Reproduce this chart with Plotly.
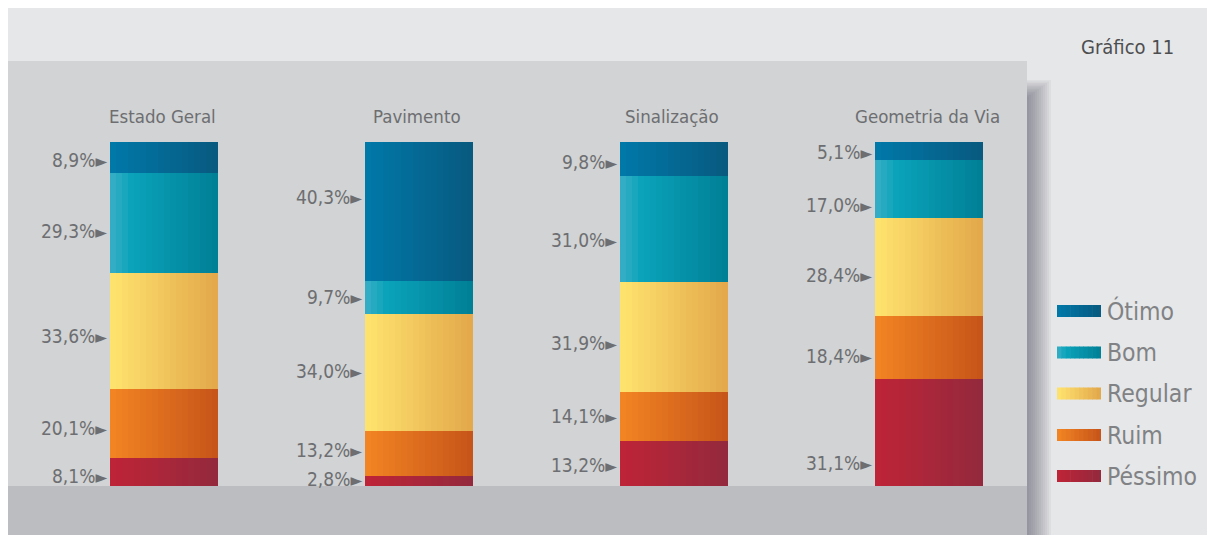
import plotly.graph_objects as go
import numpy as np

# ---- data ----
categories = ["Estado Geral", "Pavimento", "Sinalização", "Geometria da Via"]
levels = ["Péssimo", "Ruim", "Regular", "Bom", "Ótimo"]  # bottom -> top
pessimo = [8.1, 2.8, 13.2, 31.1]
ruim = [20.1, 13.2, 14.1, 18.4]
regular = [33.6, 34.0, 31.9, 28.4]
bom = [29.3, 9.7, 31.0, 17.0]
otimo = [8.9, 40.3, 9.8, 5.1]
chart_title = "Gráfico 11"

series = [pessimo, ruim, regular, bom, otimo]

# ---- styling ----
# vertical nudges (px, downward) of value labels, per level (bottom -> top) and per category
label_nudge = {
    "Péssimo": [4, -2, 2, 30],
    "Ruim": [4, -4, 0, 9],
    "Regular": [5, -1, 6, 8],
    "Bom": [8, 0, 11, 16],
    "Ótimo": [3, -14, 3, 1],
}

# gradient colours (left -> right)
grad = {
    "Ótimo": [(0.0, "#0079a9"), (1.0, "#08597f")],
    "Bom": [(0.0, "#3aafc7"), (0.2, "#0aa3ba"), (1.0, "#007f96")],
    "Regular": [(0.0, "#ffe46f"), (1.0, "#e2a74a")],
    "Ruim": [(0.0, "#f38523"), (1.0, "#c65419")],
    "Péssimo": [(0.0, "#bf2437"), (1.0, "#93293d")],
}

W, H = 1207, 535
FONT = "DejaVu Sans Condensed, Liberation Sans Narrow, sans-serif"
LABEL_COLOR = "#6d6e71"


def hex2rgb(h):
    h = h.lstrip("#")
    return np.array([int(h[i:i + 2], 16) for i in (0, 2, 4)], dtype=float)


def color_at(stops, t):
    for (t0, c0), (t1, c1) in zip(stops[:-1], stops[1:]):
        if t <= t1:
            f = 0 if t1 == t0 else (t - t0) / (t1 - t0)
            c = hex2rgb(c0) * (1 - f) + hex2rgb(c1) * f
            return "rgb(%d,%d,%d)" % tuple(np.round(c))
    c = hex2rgb(stops[-1][1])
    return "rgb(%d,%d,%d)" % tuple(np.round(c))


fig = go.Figure()

bar_w = 108 / 255
N = 18
bases = np.zeros(len(categories))
label_ann = []
for lvl, vals in zip(levels, series):
    vals_arr = np.array(vals)
    for i in range(N):
        t = (i + 0.5) / N
        off = -bar_w / 2 + i * bar_w / N
        width = bar_w / N * (1.5 if i < N - 1 else 1.0)
        fig.add_trace(go.Bar(
            x=categories, y=vals_arr, base=bases.copy(),
            offset=off, width=width,
            marker=dict(color=color_at(grad[lvl], t), line=dict(width=0)),
            showlegend=False, hoverinfo="skip",
        ))
    for ci, cat in enumerate(categories):
        label_ann.append(dict(
            x=cat, y=bases[ci] + vals_arr[ci] / 2, xref="x", yref="y",
            text=("%.1f%%" % vals_arr[ci]).replace(".", ",") + "<span style='font-size:17px'>►</span>",
            showarrow=False, xanchor="right", yanchor="middle", xshift=-54 - 1,
            yshift=-label_nudge[lvl][ci],
            font=dict(family=FONT, size=19, color=LABEL_COLOR),
        ))
    bases = bases + vals_arr

# category titles
for cat in categories:
    label_ann.append(dict(
        x=cat, y=100 + (142 - 116) / 3.44, xref="x", yref="y", text=cat,
        showarrow=False, xanchor="center", yanchor="middle", xshift=-2,
        font=dict(family=FONT, size=18.5, color=LABEL_COLOR),
    ))


def px(x):
    return x / W


def py(y):
    return 1 - y / H


shapes = []
# outer panel
shapes.append(dict(type="rect", xref="paper", yref="paper", x0=px(8), x1=px(W), y0=py(535), y1=py(8),
                   fillcolor="#e6e7e8", line=dict(width=0), layer="below"))
# shadow
for k in range(12):
    shapes.append(dict(type="rect", xref="paper", yref="paper", x0=px(1027), x1=px(1027 + 2 * (12 - k)),
                       y0=py(535), y1=py(80 + k * 1.5),
                       fillcolor="rgba(90,92,96,0.06)", line=dict(width=0), layer="below"))
# inner panel
shapes.append(dict(type="rect", xref="paper", yref="paper", x0=px(8), x1=px(1027), y0=py(486), y1=py(61),
                   fillcolor="#d1d3d4", line=dict(width=0), layer="below"))
# bottom strip
shapes.append(dict(type="rect", xref="paper", yref="paper", x0=px(8), x1=px(1027), y0=py(535), y1=py(486),
                   fillcolor="#bcbdc0", line=dict(width=0), layer="below"))

# legend (manual)
leg_y = {"Ótimo": 311, "Bom": 352.5, "Regular": 393.5, "Ruim": 435, "Péssimo": 476}
for lvl in ["Ótimo", "Bom", "Regular", "Ruim", "Péssimo"]:
    yc = leg_y[lvl]
    M = 10
    for i in range(M):
        x0 = 1057 + i * 44 / M
        shapes.append(dict(type="rect", xref="paper", yref="paper",
                           x0=px(x0), x1=px(x0 + 44 / M + (0.6 if i < M - 1 else 0)),
                           y0=py(yc + 6), y1=py(yc - 6),
                           fillcolor=color_at(grad[lvl], (i + 0.5) / M), line=dict(width=0), layer="above"))
    label_ann.append(dict(
        x=px(1105), y=py(yc), xref="paper", yref="paper", text=lvl, showarrow=False,
        xanchor="left", yanchor="middle",
        font=dict(family=FONT, size=24.5, color="#808285"),
    ))

label_ann.append(dict(
    x=px(1176), y=py(47), xref="paper", yref="paper", text=chart_title, showarrow=False,
    xanchor="right", yanchor="middle",
    font=dict(family=FONT, size=20, color="#4d4e50"),
))

fig.update_layout(
    width=W, height=H,
    margin=dict(l=0, r=0, t=0, b=0),
    paper_bgcolor="white", plot_bgcolor="rgba(0,0,0,0)",
    barmode="overlay", bargap=0,
    xaxis=dict(type="category", range=[-164 / 255, (W - 164) / 255], visible=False, fixedrange=True),
    yaxis=dict(range=[-(H - 486) / 3.44, 100 + 142 / 3.44], visible=False, fixedrange=True),
    shapes=shapes, annotations=label_ann, showlegend=False,
)

fig.write_html("out.html", post_script="document.body.style.margin='0px';document.body.style.overflow='hidden';",
               config={"displayModeBar": False})
